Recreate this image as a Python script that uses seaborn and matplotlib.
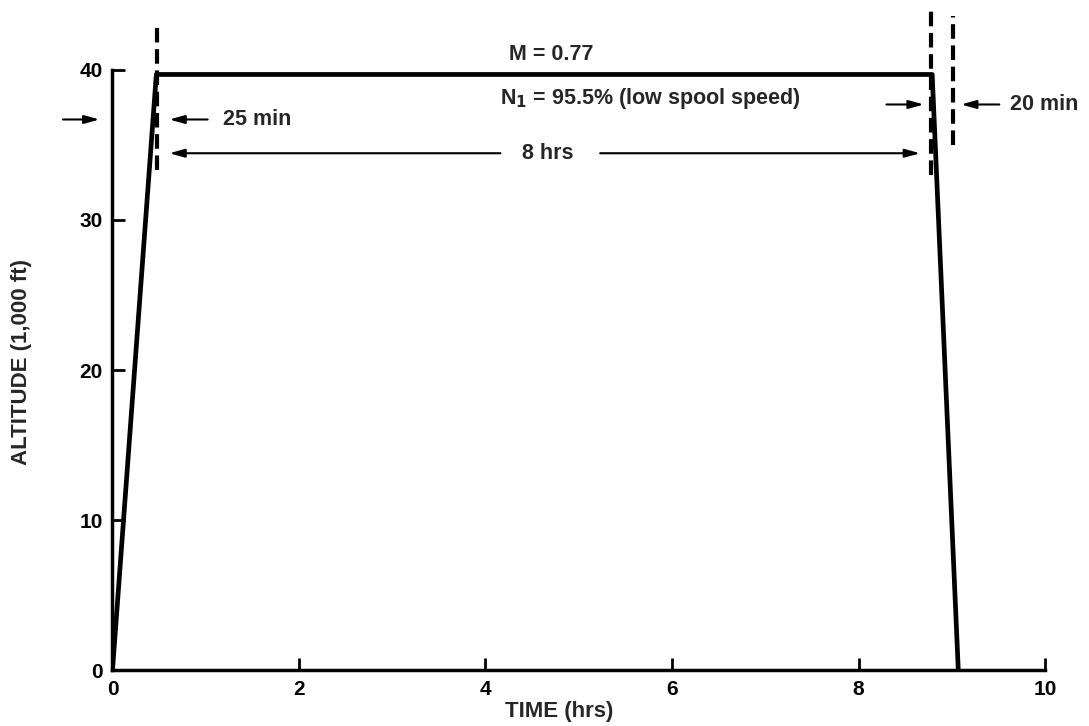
import matplotlib
matplotlib.use("Agg")
import matplotlib.pyplot as plt
import seaborn as sns
import pandas as pd

time_hrs = [0.0, 0.47, 8.79, 9.07]
altitude_kft = [0.0, 39.7, 39.7, 0.0]
x_ticks = [0, 2, 4, 6, 8, 10]
y_ticks = [0, 10, 20, 30, 40]
mach_label = "M = 0.77"
n1_label = r"N$_\mathbf{1}$ = 95.5% (low spool speed)"
climb_label = "25 min"
cruise_label = "8 hrs"
descent_label = "20 min"

sns.set_style("ticks")
plt.rcParams['font.family'] = ['Liberation Sans', 'DejaVu Sans']
plt.rcParams['font.weight'] = 'bold'
plt.rcParams['mathtext.default'] = 'bf'

fig = plt.figure(figsize=(10.89, 7.26), dpi=100)
ax = fig.add_axes([0.1033, 0.0771, 0.8563, 0.8265])

df = pd.DataFrame({"t": time_hrs, "alt": altitude_kft})
sns.lineplot(data=df, x="t", y="alt", ax=ax, color="black", linewidth=3.4,
             sort=False, estimator=None)

ax.set_xlim(0, 10)
ax.set_ylim(0, 40)
ax.set_xticks(x_ticks)
ax.set_yticks(y_ticks)
ax.tick_params(direction="in", length=9, width=2, labelsize=15, pad=7, colors="black")
for s in ["top", "right"]:
    ax.spines[s].set_visible(False)
for s in ["left", "bottom"]:
    ax.spines[s].set_linewidth(2.5)
    ax.spines[s].set_color("black")
ax.set_xlabel("TIME (hrs)", fontsize=16, fontweight="bold")
ax.set_ylabel("ALTITUDE (1,000 ft)", fontsize=16, fontweight="bold")
ax.xaxis.set_label_coords(0.479, -0.052)
ax.yaxis.set_label_coords(-0.086, 0.513)

dash = dict(color="black", linewidth=3, linestyle=(0, (3.5, 1.6)), clip_on=False)
ax.plot([0.48, 0.48], [33.3, 43.0], **dash)
ax.plot([8.78, 8.78], [33.0, 44.0], **dash)
ax.plot([9.01, 9.01], [35.0, 43.6], **dash)

arr = dict(arrowstyle="-|>,head_length=0.9,head_width=0.25", color="black", lw=1.5)
fs = 15.5
ax.annotate("", xy=(-0.11, 36.7), xytext=(-0.56, 36.7), arrowprops=arr, annotation_clip=False)
ax.annotate("", xy=(0.58, 36.7), xytext=(1.05, 36.7), arrowprops=arr, annotation_clip=False)
ax.text(1.18, 36.7, climb_label, fontsize=fs, fontweight="bold", va="center", ha="left")

ax.annotate("", xy=(0.58, 34.45), xytext=(4.19, 34.45), arrowprops=arr)
ax.text(4.67, 34.45, cruise_label, fontsize=fs, fontweight="bold", va="center", ha="center")
ax.annotate("", xy=(8.69, 34.45), xytext=(5.2, 34.45), arrowprops=arr)

ax.annotate("", xy=(8.73, 37.7), xytext=(8.27, 37.7), arrowprops=arr)
ax.annotate("", xy=(9.07, 37.7), xytext=(9.54, 37.7), arrowprops=arr, annotation_clip=False)
ax.text(9.62, 37.7, descent_label, fontsize=fs, fontweight="bold", va="center", ha="left")

ax.text(4.71, 41.0, mach_label, fontsize=fs, fontweight="bold", va="center", ha="center")
ax.text(4.16, 38.1, n1_label, fontsize=fs, fontweight="bold", va="center", ha="left")

fig.savefig("out.png", dpi=100, facecolor="white")
